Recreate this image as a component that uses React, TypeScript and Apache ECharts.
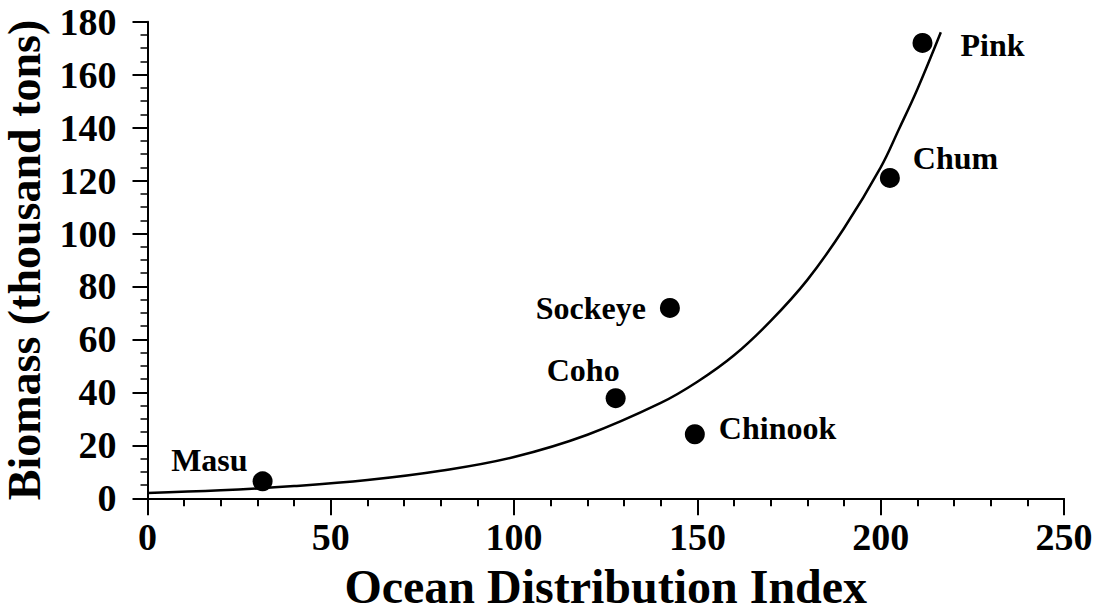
import React, { useEffect, useRef } from "react";
import * as echarts from "echarts";

const speciesNames = ["Masu", "Coho", "Sockeye", "Chinook", "Chum", "Pink"];
const oceanIndex = [31.4, 127.7, 142.5, 149.3, 202.5, 211.4];
const biomass = [6.4, 37.8, 71.9, 24.2, 121, 172];

const curveX = [0, 20, 40, 60, 80, 100, 120, 140, 150, 160, 170, 180, 190, 200, 205, 210, 216.4];
const curveY = [2.0, 3.0, 4.6, 6.9, 10.4, 15.6, 24, 36, 44, 54, 67, 82.5, 102, 125, 139.5, 154.5, 176];

const xTicks = [0, 50, 100, 150, 200, 250];
const yTicks = [0, 20, 40, 60, 80, 100, 120, 140, 160, 180];

const labelPlacement: Record<string, { position: string; offset: number[] }> = {
  Masu: { position: "left", offset: [0, -21] },
  Coho: { position: "left", offset: [19, -28] },
  Sockeye: { position: "left", offset: [-9, 0] },
  Chinook: { position: "right", offset: [9, -6] },
  Chum: { position: "right", offset: [8, -20] },
  Pink: { position: "right", offset: [23, 2] },
};

const FONT = "'Liberation Serif', 'Times New Roman', serif";

export default function App() {
  const ref = useRef<HTMLDivElement>(null);
  useEffect(() => {
    if (!ref.current) return;
    const chart = echarts.init(ref.current, undefined, { renderer: "svg" });
    const scatterData = speciesNames.map((n, i) => ({
      name: n,
      value: [oceanIndex[i], biomass[i]],
      label: {
        show: true,
        formatter: n,
        position: labelPlacement[n].position,
        offset: labelPlacement[n].offset,
        color: "#000",
        fontFamily: FONT,
        fontWeight: "bold",
        fontSize: 32,
      },
    }));
    const axisCommon = {
      axisLine: { show: true, lineStyle: { color: "#000", width: 2 } },
      splitLine: { show: false },
      axisLabel: {
        color: "#000",
        fontFamily: FONT,
        fontWeight: "bold",
        fontSize: 38,
      },
      nameTextStyle: { color: "#000", fontFamily: FONT, fontWeight: "bold" },
    };
    chart.setOption({
      animation: false,
      backgroundColor: "#fff",
      grid: {
        left: 147.5,
        right: 34,
        top: 21.7,
        bottom: 114.7,
        containLabel: false,
        outerBoundsMode: "none",
      },
      xAxis: {
        ...axisCommon,
        type: "value",
        min: xTicks[0],
        max: xTicks[xTicks.length - 1],
        interval: 50,
        name: "Ocean Distribution Index",
        nameLocation: "middle",
        nameGap: 52,
        nameTextStyle: { ...axisCommon.nameTextStyle, fontSize: 48, lineHeight: 50 },
        axisTick: { show: true, inside: false, length: 17, lineStyle: { color: "#000", width: 2 } },
        minorTick: { show: true, splitNumber: 5, length: 8, lineStyle: { color: "#000", width: 2 } },
        axisLabel: { ...axisCommon.axisLabel, margin: 20 },
      },
      yAxis: {
        ...axisCommon,
        type: "value",
        min: yTicks[0],
        max: yTicks[yTicks.length - 1],
        interval: 20,
        name: "Biomass (thousand tons)",
        nameLocation: "middle",
        nameRotate: 90,
        nameGap: 92,
        nameTextStyle: { ...axisCommon.nameTextStyle, fontSize: 46, lineHeight: 48 },
        axisTick: { show: true, inside: false, length: 15, lineStyle: { color: "#000", width: 2 } },
        minorTick: { show: true, splitNumber: 4, length: 7, lineStyle: { color: "#000", width: 1.5 } },
        axisLabel: { ...axisCommon.axisLabel, margin: 31 },
      },
      series: [
        {
          type: "line",
          data: curveX.map((x, i) => [x, curveY[i]]),
          smooth: 0.4,
          showSymbol: false,
          lineStyle: { color: "#000", width: 2.5 },
          z: 2,
        },
        {
          type: "scatter",
          data: scatterData,
          symbol: "circle",
          symbolSize: 20,
          itemStyle: { color: "#000", opacity: 1 },
          z: 3,
        },
      ],
    });
    return () => chart.dispose();
  }, []);
  return (
    <div
      ref={ref}
      style={{ position: "fixed", left: 0, top: 0, width: 1098, height: 613, background: "#fff" }}
    />
  );
}
